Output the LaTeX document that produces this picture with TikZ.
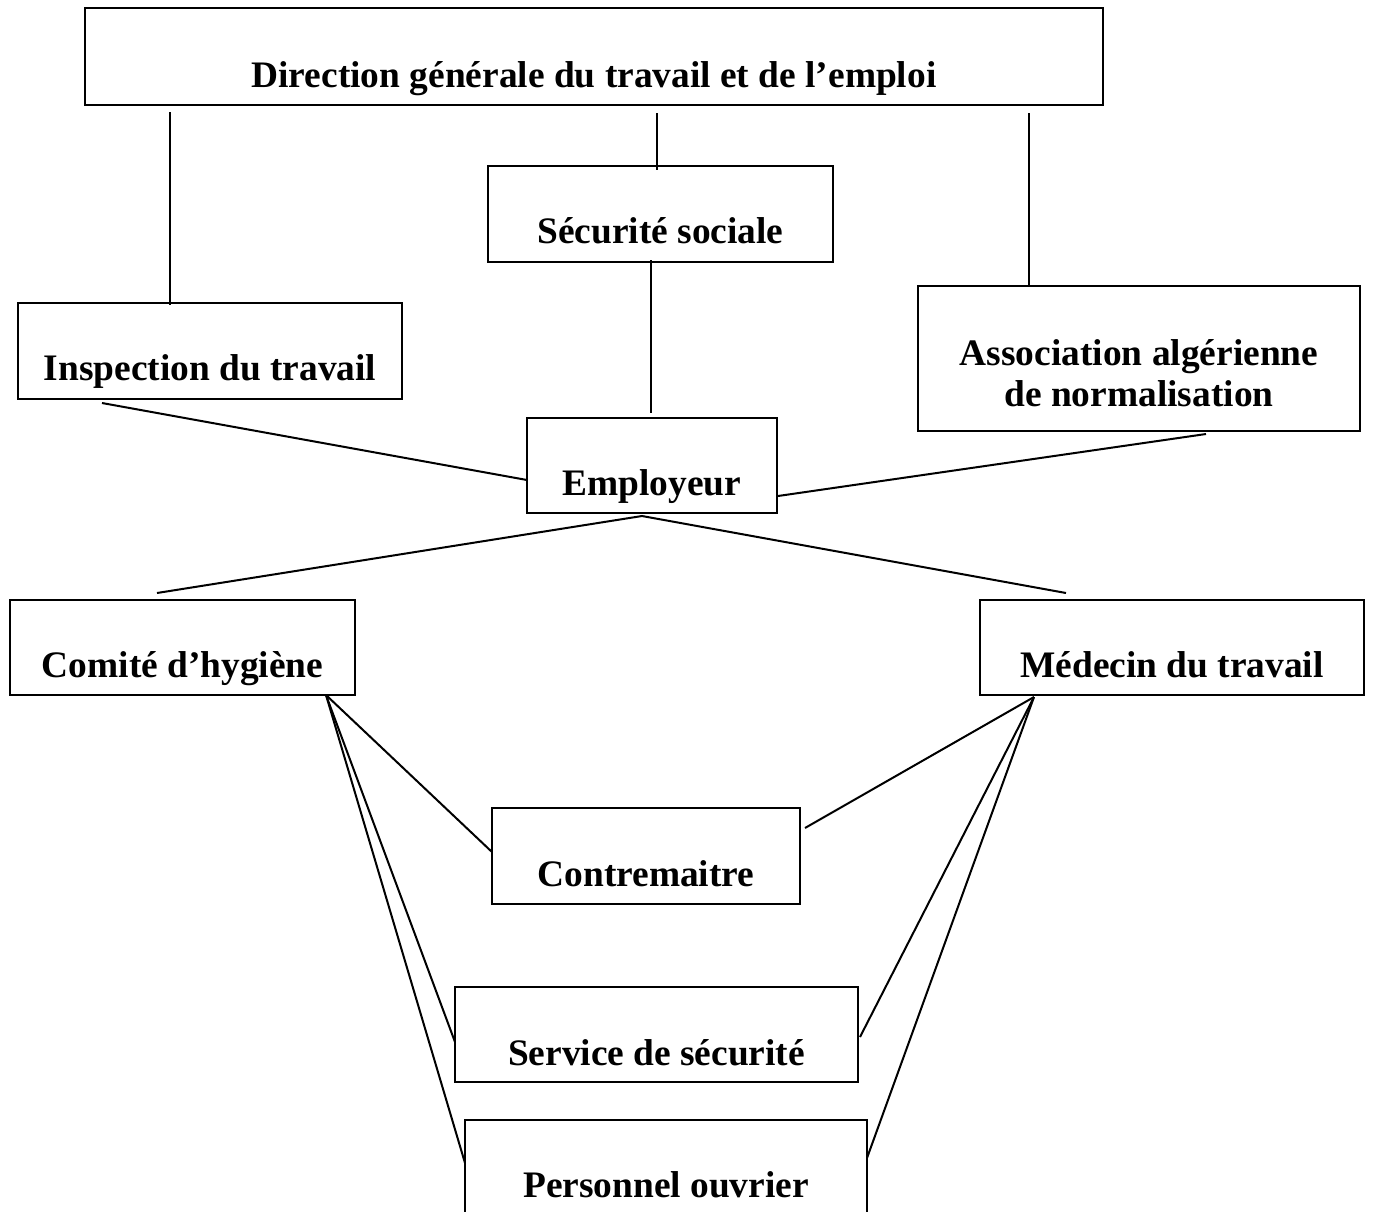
\documentclass[tikz,border=0pt]{standalone}
\usepackage{fontspec}
\setmainfont{Liberation Serif}
\usetikzlibrary{calc}
\begin{document}
\begin{tikzpicture}[x=0.5pt,y=-0.5pt,
  box/.style={draw,line width=1pt,inner sep=0pt,minimum width=#1},
  lbl/.style={anchor=base,inner sep=0pt,font=\bfseries\fontsize{18.7}{20.5}\selectfont,align=center},
  link/.style={line width=1pt}]
\clip (0,0) rectangle (1373,1212);
\fill[white] (0,0) rectangle (1373,1212);
% boxes
\node[box=509pt,minimum height=48.5pt] (dir)  at (594,56.5) {};
\node[box=172.5pt,minimum height=48pt] (secu) at (660.5,214) {};
\node[box=192pt,minimum height=48pt] (insp) at (210,351) {};
\node[box=221pt,minimum height=72.5pt] (asso) at (1139,358.5) {};
\node[box=125pt,minimum height=47.5pt] (empl) at (652,465.5) {};
\node[box=172.5pt,minimum height=47.5pt] (comi) at (182.5,647.5) {};
\node[box=192pt,minimum height=47.5pt] (mede) at (1172,647.5) {};
\node[box=154pt,minimum height=48pt] (cont) at (646,856) {};
\node[box=201.5pt,minimum height=47.5pt] (serv) at (656.5,1034.5) {};
\node[box=201pt,minimum height=48pt] (pers) at (666,1168) {};
% texts
\node[lbl] (dirT)  at (594,87) {Direction générale du travail et de l’emploi};
\node[lbl] (secuT) at (660.5,243) {Sécurité sociale};
\node[lbl] (inspT) at (210,380) {Inspection du travail};
\node[lbl] (assoT) at (1139,406) {Association algérienne\\de normalisation};
\node[lbl] (emplT) at (652,495) {Employeur};
\node[lbl] (comiT) at (182.5,677) {Comité d’hygiène};
\node[lbl] (medeT) at (1172,677) {Médecin du travail};
\node[lbl] (contT) at (646,886) {Contremaitre};
\node[lbl] (servT) at (656.5,1065) {Service de sécurité};
\node[lbl] (persT) at (666,1197) {Personnel ouvrier};
% connectors
\draw[link] ($(dir)+(-424,55.5)$) -- ($(insp)+(-40,-46)$);
\draw[link] ($(dir)+(63,56.5)$) -- ($(secu)+(-3.5,-44)$);
\draw[link] ($(dir)+(435,56.5)$) -- ($(asso)+(-110,-71.5)$);
\draw[link] ($(secu)+(-9.5,46)$) -- ($(empl)+(-1,-52.5)$);
\draw[link] ($(insp)+(-108,52)$) -- ($(empl)+(-125,14.5)$);
\draw[link] ($(asso)+(67,75.5)$) -- ($(empl)+(126,30.5)$);
\draw[link] ($(comi)+(-25.5,-54.5)$) -- ($(empl)+(-10,50.5)$) -- ($(mede)+(-106,-54.5)$);
\draw[link] ($(comi)+(143.5,47.5)$) -- ($(cont)+(-154,-4)$);
\draw[link] ($(comi)+(143.5,47.5)$) -- ($(serv)+(-201.5,7.5)$);
\draw[link] ($(comi)+(143.5,47.5)$) -- ($(pers)+(-201,-5)$);
\draw[link] ($(mede)+(-138,49.5)$) -- ($(cont)+(159,-28)$);
\draw[link] ($(mede)+(-138,49.5)$) -- ($(serv)+(203.5,2.5)$);
\draw[link] ($(mede)+(-138,49.5)$) -- ($(pers)+(201,-10)$);
\end{tikzpicture}
\end{document}
